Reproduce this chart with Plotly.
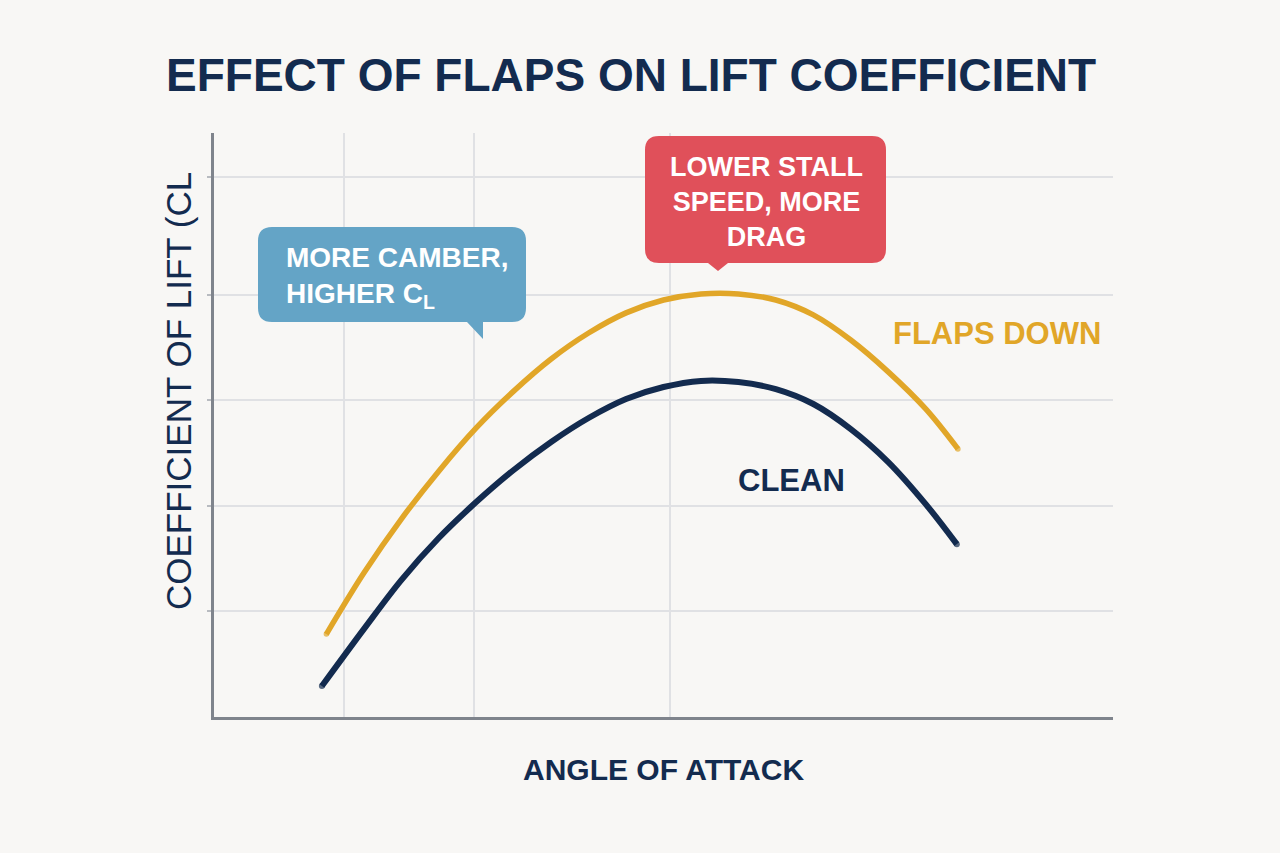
import plotly.graph_objects as go

# ---- data ----
aoa_flaps = [-1.0, 0, 1, 2, 3, 4, 5, 6, 7, 8, 9, 10, 11, 12, 13, 14, 15, 15.86]
cl_flaps = [0.284, 0.493, 0.678, 0.842, 0.990, 1.116, 1.226, 1.315, 1.384, 1.428,
            1.449, 1.449, 1.428, 1.377, 1.291, 1.182, 1.055, 0.918]

aoa_clean = [-1.12, 0, 1, 2, 3, 4, 5, 6, 7, 8, 9, 10, 11, 12, 13, 14, 15, 15.83]
cl_clean = [0.106, 0.301, 0.469, 0.613, 0.736, 0.846, 0.942, 1.024, 1.089, 1.130,
            1.151, 1.147, 1.123, 1.072, 0.986, 0.873, 0.729, 0.592]

x_grid = [-0.53, 2.94, 8.17]
y_grid = [0.363, 0.723, 1.086, 1.445, 1.849]

title_text = "EFFECT OF FLAPS ON LIFT COEFFICIENT"
xlabel = "ANGLE OF ATTACK"
ylabel = "COEFFICIENT OF LIFT (CL"
note_blue = "MORE CAMBER,<br>HIGHER C<sub>L</sub>"
note_red = "LOWER STALL<br>SPEED, MORE<br>DRAG"
label_flaps = "FLAPS DOWN"
label_clean = "CLEAN"

# ---- layout geometry ----
W, H = 1280, 853
L, R, T, B = 214, 1113, 133, 717
XR = [-4, 20]
YR = [0, 2.0]

NAVY = "#132B4F"
GOLD = "#E1A628"
BLUE = "#64A4C6"
RED = "#E0505A"
BG = "#F8F7F5"
GRID = "#E0E1E4"
AXIS = "#7F848C"
FONT = "Liberation Sans, Arial, sans-serif"


def dx(px):
    return XR[0] + (px - L) / (R - L) * (XR[1] - XR[0])


def dy(py):
    return YR[0] + (B - py) / (B - T) * (YR[1] - YR[0])


def px_x(px):
    return (px - L) / (R - L)


def px_y(py):
    return (B - py) / (B - T)


def box_path(l, t, r_, b, rad, tail):
    def P(x, y):
        return f"{dx(x):.4f},{dy(y):.4f}"
    s = f"M {P(l + rad, t)} L {P(r_ - rad, t)} Q {P(r_, t)} {P(r_, t + rad)} "
    s += f"L {P(r_, b - rad)} Q {P(r_, b)} {P(r_ - rad, b)} "
    for (x, y) in tail:
        s += f"L {P(x, y)} "
    s += f"L {P(l + rad, b)} Q {P(l, b)} {P(l, b - rad)} "
    s += f"L {P(l, t + rad)} Q {P(l, t)} {P(l + rad, t)} Z"
    return s


def end_caps(n, w):
    return [w] + [0] * (n - 2) + [w]


fig = go.Figure()

fig.add_trace(go.Scatter(x=aoa_flaps, y=cl_flaps, mode="lines+markers",
                         line=dict(color=GOLD, width=5.5, shape="spline", smoothing=1.0),
                         marker=dict(size=end_caps(len(aoa_flaps), 5.5), color=GOLD, line=dict(width=0)),
                         hoverinfo="skip", showlegend=False))
fig.add_trace(go.Scatter(x=aoa_clean, y=cl_clean, mode="lines+markers",
                         line=dict(color=NAVY, width=6, shape="spline", smoothing=1.0),
                         marker=dict(size=end_caps(len(aoa_clean), 6), color=NAVY, line=dict(width=0)),
                         hoverinfo="skip", showlegend=False))

shapes = [
    dict(type="path", xref="x", yref="y", layer="above",
         path=box_path(258, 227, 526, 322, 14, [(483, 322), (483, 339), (467, 322)]),
         fillcolor=BLUE, line=dict(width=0)),
    dict(type="path", xref="x", yref="y", layer="above",
         path=box_path(645, 136, 886, 263, 14, [(728, 263), (718, 271), (708, 263)]),
         fillcolor=RED, line=dict(width=0)),
]

annotations = [
    dict(text=f"<b>{title_text}</b>", xref="paper", yref="paper",
         x=px_x(631), y=px_y(75), xanchor="center", yanchor="middle", showarrow=False,
         font=dict(family=FONT, size=46, color=NAVY)),
    dict(text=ylabel, xref="paper", yref="paper", textangle=-90,
         x=px_x(178), y=px_y(391), xanchor="center", yanchor="middle", showarrow=False,
         font=dict(family=FONT, size=35, color=NAVY)),
    dict(text=f"<b>{xlabel}</b>", xref="paper", yref="paper",
         x=px_x(663), y=px_y(769), xanchor="center", yanchor="middle", showarrow=False,
         font=dict(family=FONT, size=30, color=NAVY)),
    dict(text=f"<b>{note_blue}</b>", xref="paper", yref="paper", align="left",
         x=px_x(284), y=px_y(277), xanchor="left", yanchor="middle", showarrow=False,
         font=dict(family=FONT, size=28, color="white")),
    dict(text=f"<b>{note_red}</b>", xref="paper", yref="paper", align="center",
         x=px_x(766), y=px_y(202), xanchor="center", yanchor="middle", showarrow=False,
         font=dict(family=FONT, size=27, color="white")),
    dict(text=f"<b>{label_flaps}</b>", xref="paper", yref="paper",
         x=px_x(891), y=px_y(333), xanchor="left", yanchor="middle", showarrow=False,
         font=dict(family=FONT, size=31, color=GOLD)),
    dict(text=f"<b>{label_clean}</b>", xref="paper", yref="paper",
         x=px_x(736), y=px_y(480), xanchor="left", yanchor="middle", showarrow=False,
         font=dict(family=FONT, size=31, color=NAVY)),
]

fig.update_layout(
    width=W, height=H,
    margin=dict(l=L, r=W - R, t=T, b=H - B, pad=0),
    paper_bgcolor=BG, plot_bgcolor=BG,
    shapes=shapes, annotations=annotations,
    showlegend=False,
    xaxis=dict(range=XR, tickvals=x_grid, showticklabels=False, ticks="",
               showgrid=True, gridcolor=GRID, gridwidth=2,
               showline=True, linecolor=AXIS, linewidth=3, zeroline=False, fixedrange=True),
    yaxis=dict(range=YR, tickvals=y_grid, showticklabels=False, ticks="outside",
               ticklen=4, tickcolor="#B8BBC0", tickwidth=1.5,
               showgrid=True, gridcolor=GRID, gridwidth=2,
               showline=True, linecolor=AXIS, linewidth=3, zeroline=False, fixedrange=True),
)

fig.write_html("out.html", config={"displayModeBar": False})
